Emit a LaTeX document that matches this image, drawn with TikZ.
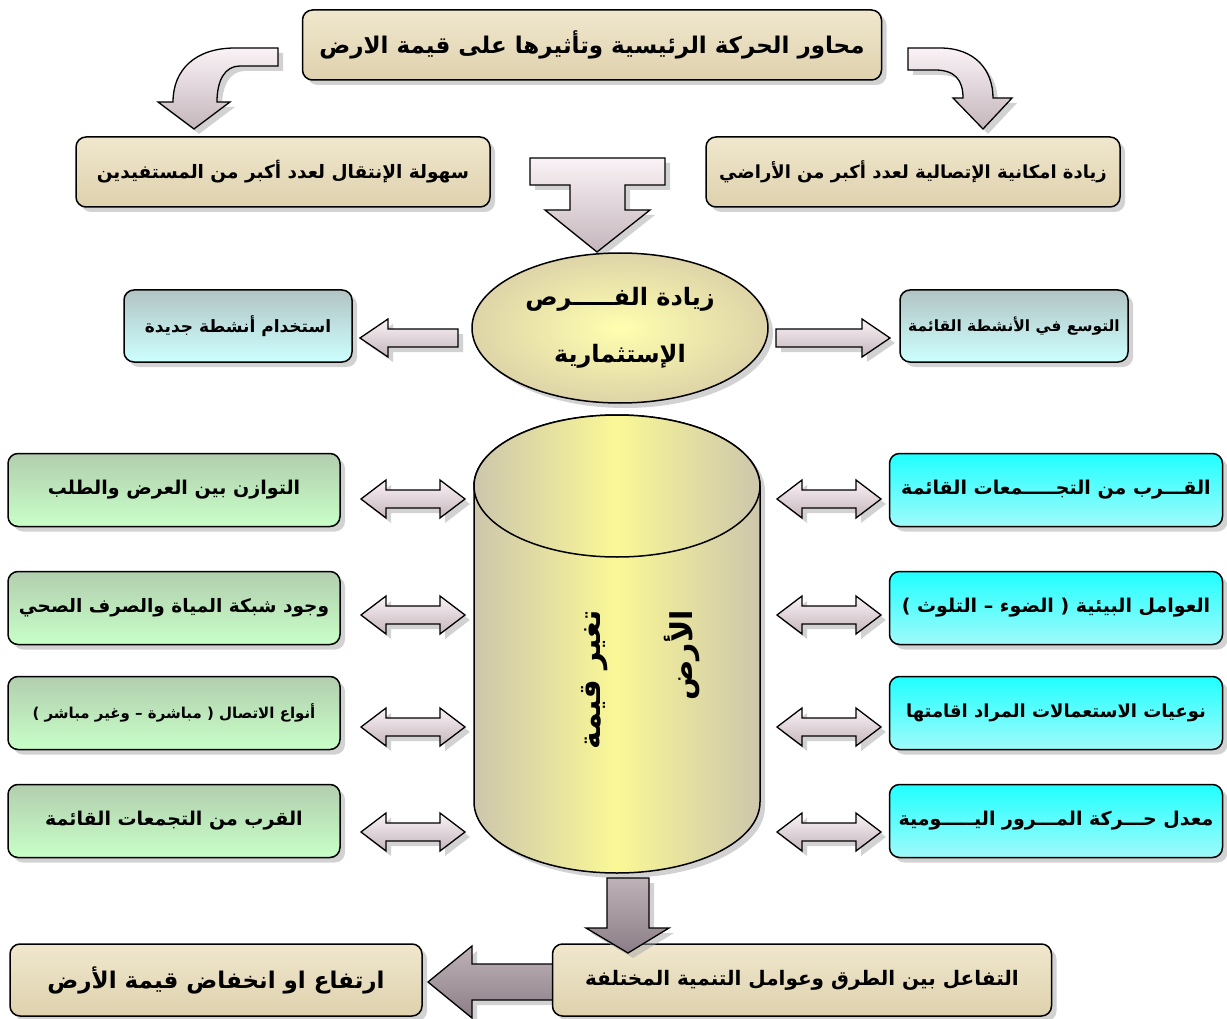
\documentclass[tikz,border=0pt]{standalone}
\usepackage{fontspec}
\TeXXeTstate=1
\newfontfamily\arabicfont[Script=Arabic]{DejaVu Sans}
\usetikzlibrary{shapes.geometric,shadows,calc}
\newcommand{\artext}[1]{\beginR #1\endR}

\definecolor{parchA}{RGB}{240,231,205}
\definecolor{parchB}{RGB}{222,209,173}
\definecolor{tealA}{RGB}{178,196,196}
\definecolor{tealB}{RGB}{205,255,255}
\definecolor{greenA}{RGB}{178,206,174}
\definecolor{greenB}{RGB}{200,255,200}
\definecolor{cyanA}{RGB}{32,255,255}
\definecolor{cyanB}{RGB}{160,250,250}
\definecolor{arrA}{RGB}{250,242,246}
\definecolor{arrB}{RGB}{196,182,188}
\definecolor{darkA}{RGB}{190,178,184}
\definecolor{darkB}{RGB}{140,126,134}
\definecolor{yelA}{RGB}{255,255,175}
\definecolor{yelB}{RGB}{222,212,168}
\definecolor{cylside}{RGB}{205,198,172}
\definecolor{cylmid}{RGB}{250,248,150}

\begin{document}
\begin{tikzpicture}[x=1pt,y=-1pt,
  shadowed/.style={drop shadow={shadow xshift=5pt,shadow yshift=-5pt,fill=black!35}},
  box/.style={draw, line width=1.5pt, rounded corners=10pt, align=center, inner sep=2pt, shadowed},
  parch/.style={box, top color=parchA, bottom color=parchB},
  tealbox/.style={box, top color=tealA, bottom color=tealB, minimum width=228pt, minimum height=72pt,
    font=\arabicfont\bfseries\fontsize{17}{20}\selectfont},
  greenbox/.style={box, top color=greenA, bottom color=greenB, minimum width=332pt, minimum height=73pt,
    font=\arabicfont\bfseries\fontsize{19}{22}\selectfont},
  cyanbox/.style={box, top color=cyanA, bottom color=cyanB, minimum width=333pt, minimum height=73pt,
    font=\arabicfont\bfseries\fontsize{19}{22}\selectfont},
  blockarr/.style={draw, line width=1.3pt, line join=miter, top color=arrA, bottom color=arrB, shadowed},
  darkarr/.style={draw, line width=1.3pt, line join=miter, top color=darkA, bottom color=darkB, shadowed},
  dblarrow/.pic={\path[blockarr] (-52,0) -- (-27,-19) -- (-27,-9) -- (27,-9) -- (27,-19) -- (52,0)
      -- (27,19) -- (27,9) -- (-27,9) -- (-27,19) -- cycle;},
]
\useasboundingbox (0,0) rectangle (1227,1019);

% ---- title and the two curved arrows ----
\node[parch, minimum width=579pt, minimum height=70pt,
  font=\arabicfont\bfseries\fontsize{23}{28}\selectfont] (title) at (592,45)
  {\artext{محاور الحركة الرئيسية وتأثيرها على قيمة الارض}};

\path[blockarr] (278,48) -- (235,48) .. controls (195,48) and (173,70) .. (173,102)
  -- (158,102) -- (194,129) -- (230,102) -- (217,102)
  .. controls (217,80) and (225,66) .. (240,66) -- (278,66) -- cycle;
\path[blockarr] (908,48) -- (940,48) .. controls (975,48) and (993,70) .. (993,98)
  -- (1012,98) -- (983,129) -- (953,98) -- (963,98)
  .. controls (963,80) and (955,70) .. (935,70) -- (908,70) -- cycle;

\node[parch, minimum width=414pt, minimum height=70pt,
  font=\arabicfont\bfseries\fontsize{18.5}{24}\selectfont] (ease) at (283,172)
  {\artext{سهولة الإنتقال لعدد أكبر من المستفيدين}};
\node[parch, minimum width=414pt, minimum height=70pt,
  font=\arabicfont\bfseries\fontsize{18}{24}\selectfont] (reach) at (913,172)
  {\artext{زيادة امكانية الإتصالية لعدد أكبر من الأراضي}};

% ---- T shaped arrow into the ellipse ----
\path[blockarr] (530,158) -- (665,158) -- (665,185) -- (625,185) -- (625,210) -- (650,210)
  -- (597,252) -- (545,210) -- (570,210) -- (570,185) -- (530,185) -- cycle;

% ---- investment opportunities ----
\node[ellipse, draw, line width=1.5pt, minimum width=296pt, minimum height=150pt,
  inner color=yelA, outer color=yelB, shadowed, align=center,
  font=\arabicfont\bfseries\fontsize{24}{57}\selectfont] (chance) at (620,328)
  {\artext{زيادة الفـــــرص}\\\artext{الإستثمارية}};

\node[tealbox] (newact) at (238,326) {\artext{استخدام أنشطة جديدة}};
\node[tealbox, font=\arabicfont\bfseries\fontsize{15.5}{20}\selectfont] (expand) at (1014,326)
  {\artext{التوسع في الأنشطة القائمة}};

\path[blockarr] (458,329) -- (388,329) -- (388,319) -- (360,338) -- (388,357) -- (388,347)
  -- (458,347) -- cycle;
\path[blockarr] (776,329) -- (862,329) -- (862,319) -- (890,338) -- (862,357) -- (862,347)
  -- (776,347) -- cycle;

% ---- cylinder ----
\path[draw, line width=1.5pt, left color=cylside, right color=cylside, middle color=cylmid, shadowed]
  (474,486) -- (474,802) arc[start angle=180, end angle=0, x radius=143, y radius=71]
  -- (760,486) arc[start angle=0, end angle=-180, x radius=143, y radius=71] -- cycle;
\path[draw, line width=1.5pt, left color=cylside, right color=cylside, middle color=cylmid]
  (617,486) ellipse [x radius=143, y radius=71];
\node[rotate=90, align=right, font=\arabicfont\bfseries\fontsize{30}{92}\selectfont] (cyltext)
  at (641,680) {\artext{تغير قيمة}\\\artext{الأرض}};

% ---- factor boxes ----
\node[greenbox] (g1) at (174,490) {\artext{التوازن بين العرض والطلب}};
\node[greenbox, font=\arabicfont\bfseries\fontsize{18.5}{22}\selectfont] (g2) at (174,608)
  {\artext{وجود شبكة المياة والصرف الصحي}};
\node[greenbox, font=\arabicfont\bfseries\fontsize{15}{18}\selectfont] (g3) at (174,713)
  {\artext{أنواع الاتصال ( مباشرة – وغير مباشر )}};
\node[greenbox] (g4) at (174,821) {\artext{القرب من التجمعات القائمة}};

\node[cyanbox] (c1) at (1056,490) {\artext{القـــرب من التجـــــمعات القائمة}};
\node[cyanbox] (c2) at (1056,608) {\artext{العوامل البيئية ( الضوء – التلوث )}};
\node[cyanbox, font=\arabicfont\bfseries\fontsize{18}{22}\selectfont] (c3) at (1056,713)
  {\artext{نوعيات الاستعمالات المراد اقامتها}};
\node[cyanbox] (c4) at (1056,821) {\artext{معدل حـــركة المـــرور اليـــــومية}};

\foreach \yy in {499,615,727,832} {
  \pic at (413,\yy) {dblarrow};
  \pic at (829,\yy) {dblarrow};
}

% ---- bottom row ----
\node[parch, minimum width=412pt, minimum height=72pt,
  font=\arabicfont\bfseries\fontsize{23}{26}\selectfont] (result) at (216,980)
  {\artext{ارتفاع او انخفاض قيمة الأرض}};
\path[darkarr] (555,964) -- (472,964) -- (472,946) -- (428,982) -- (472,1018) -- (472,1000)
  -- (555,1000) -- cycle;
\node[parch, minimum width=499pt, minimum height=72pt,
  font=\arabicfont\bfseries\fontsize{20}{26}\selectfont] (interact) at (802,980)
  {\artext{التفاعل بين الطرق وعوامل التنمية المختلفة}};
\path[darkarr] (607,878) -- (649,878) -- (649,928) -- (669,928) -- (628,953) -- (586,928)
  -- (607,928) -- cycle;
\end{tikzpicture}
\end{document}
